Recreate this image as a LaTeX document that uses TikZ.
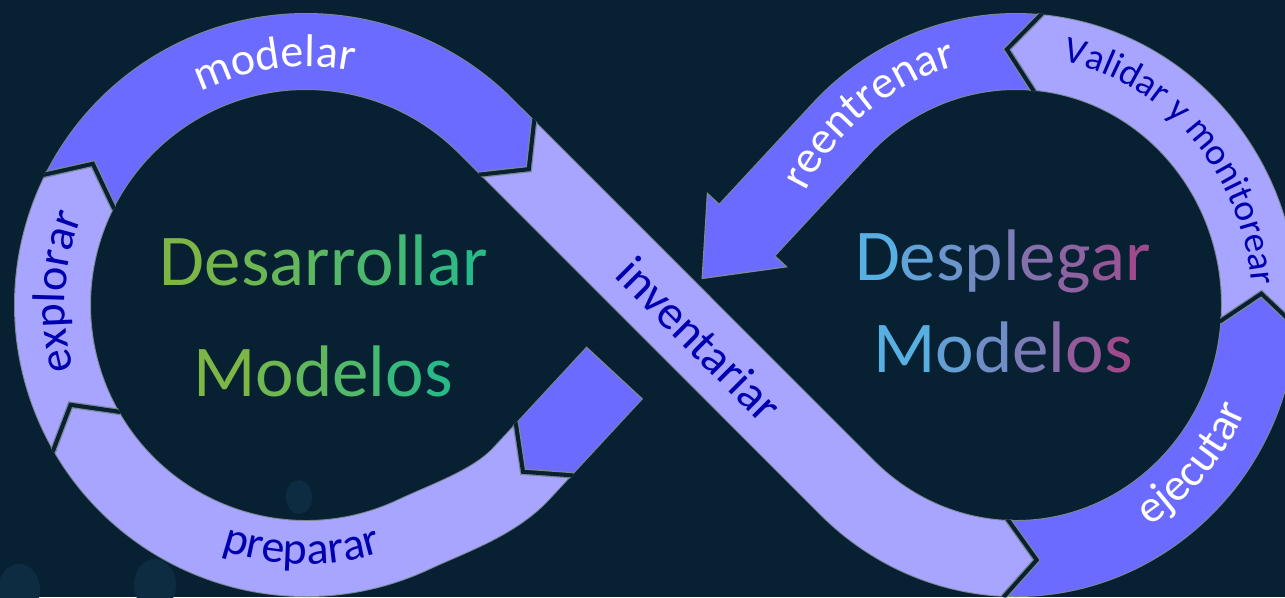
\documentclass[tikz,border=0pt]{standalone}
\usepackage{fontspec}
\setmainfont{Carlito}
\usetikzlibrary{calc,decorations.text}

\definecolor{bg}{HTML}{072133}
\definecolor{bandblue}{HTML}{6C6BFF}
\definecolor{bandlilac}{HTML}{A7A5FF}
\definecolor{edge}{HTML}{7C8894}
\definecolor{ink}{HTML}{0000B0}
\definecolor{bokeh}{HTML}{0D2C41}
\definecolor{devA}{HTML}{7EB646}
\definecolor{devB}{HTML}{27BA88}
\definecolor{depA}{HTML}{58B0E2}
\definecolor{depB}{HTML}{A04A8C}

\newcommand\lblfont{\fontsize{46pt}{50pt}\selectfont}
\newcommand\smallfont{\fontsize{37.5pt}{40pt}\selectfont}
\newcommand\bigfont{\fontsize{73pt}{80pt}\selectfont}

% one band piece: grey rim, then the fill
\newcommand\band[2]{\draw[line width=77pt,edge] #2;\draw[line width=75pt,#1] #2;}

% arrow point at a joint: junction, flow angle, colour
\newcommand\chevron[3]{%
  \begin{scope}
    \clip ($(#1)+(#2-90:39)$) -- ($(#1)+(#2+90:39)$) -- ($(#1)+(#2:60)+(#2+90:39)$) -- ($(#1)+(#2:60)+(#2-90:39)$) -- cycle;
    \draw[line width=12pt,edge] ($(#1)+(#2-90:37.5)$) -- ($(#1)+(#2:30)$) -- ($(#1)+(#2+90:37.5)$);
    \draw[line width=9.5pt,bg] ($(#1)+(#2-90:37.5)$) -- ($(#1)+(#2:30)$) -- ($(#1)+(#2+90:37.5)$);
  \end{scope}
  \fill[#3] ($(#1)+(#2-90:37.5)+(#2:-1)$) -- ($(#1)+(#2-90:37.5)$) -- ($(#1)+(#2:30)$) -- ($(#1)+(#2+90:37.5)$) -- ($(#1)+(#2+90:37.5)+(#2:-1)$) -- cycle;
  \draw[line width=1.2pt,edge] ($(#1)+(#2-90:37.5)$) -- ($(#1)+(#2:30)$) -- ($(#1)+(#2+90:37.5)$);
}

\newcommand\gradword[4]{\foreach \ch [count=\k] in {#4}{\pgfmathtruncatemacro\pc{100-100*(\k-1)/#3}\textcolor{#1!\pc!#2}{\ch}}}

\begin{document}
\begin{tikzpicture}[x=1pt,y=-1pt]
	\useasboundingbox (0,0) rectangle (1285,597);
	\fill[bg] (0,0) rectangle (1285,597);
	\fill[bokeh] (155,585) ellipse (21 and 26) (19,590) ellipse (21 and 26) (299,497) ellipse (13 and 17);

	\coordinate (lc) at (306,305);
	\coordinate (rc) at (1016,305);
	\coordinate (j1) at ($(lc)+(206:253.5)$);
	\coordinate (j2) at (505.1,145.5);
	\coordinate (j3) at ($(rc)+(93:243.5 and 253.5)$);
	\coordinate (j4) at ($(rc)+(5:243.5 and 253.5)$);
	\coordinate (j5) at ($(rc)+(-84.3:243.5 and 253.5)$);
	\coordinate (j6) at (545.8,447.2);
	\coordinate (j7) at ($(lc)+(149.5:253.5)$);
	\coordinate (head) at (747.0,230.1);
	\coordinate (cut) at (614.4,373.1);

	\band{bandblue}{(j1) arc[start angle=206, end angle=315, radius=253.5] -- (j2)}
	\band{bandlilac}{(j2) -- (847.4,487.9) arc[start angle=133.85, end angle=93, x radius=243.5, y radius=253.5]}
	\band{bandblue}{(j3) arc[start angle=93, end angle=5, x radius=243.5, y radius=253.5]}
	\band{bandlilac}{(j4) arc[start angle=5, end angle=-84.3, x radius=243.5, y radius=253.5]}
	\band{bandblue}{(j5) arc[start angle=-84.3, end angle=-136.03, x radius=243.5, y radius=253.5] -- (head)}
	\band{bandblue}{(cut) -- (j6)}
	\band{bandlilac}{(j6) -- (521.3,473.6) .. controls (494.1,502.9) and (449.4,517.8) .. ($(lc)+(65:253.5)$) arc[start angle=65, end angle=149.5, radius=253.5]}
	\band{bandlilac}{(j7) arc[start angle=149.5, end angle=206, radius=253.5]}

	\fill[bandblue] ($(head)+(222.83:37.5)+(132.83:-1)$) -- ($(head)+(222.83:37.5)$) -- ($(head)+(222.83:54)$) -- ($(head)+(132.83:66)$) -- ($(head)+(42.83:54)$) -- ($(head)+(42.83:37.5)$) -- ($(head)+(42.83:37.5)+(132.83:-1)$) -- cycle;
	\draw[edge,line width=1.2pt] ($(head)+(222.83:37.5)$) -- ($(head)+(222.83:54)$) -- ($(head)+(132.83:66)$) -- ($(head)+(42.83:54)$) -- ($(head)+(42.83:37.5)$);
	\draw[edge,line width=1.2pt] ($(cut)+(222.83:38.5)$) -- ($(cut)+(42.83:38.5)$);

	\chevron{j1}{296}{bandlilac}
	\chevron{j2}{45}{bandblue}
	\chevron{j3}{3.1}{bandlilac}
	\chevron{j4}{-85.2}{bandblue}
	\chevron{j5}{185.9}{bandlilac}
	\chevron{j6}{132.83}{bandblue}
	\chevron{j7}{239.5}{bandlilac}

	\path[decorate,decoration={text along path,text align=center,text color=white,text={|\lblfont|modelar}}]
		($(lc)+(232.5:238)$) arc[start angle=232.5, end angle=292.5, radius=238];
	\path[decorate,decoration={text along path,text align=center,text color=ink,text={|\lblfont|explorar}}]
		($(lc)+(153:241)$) arc[start angle=153, end angle=213, radius=241];
	\path[decorate,decoration={text along path,text align=center,text color=ink,text={|\lblfont|preparar}}]
		($(lc)+(121:259)$) arc[start angle=121, end angle=61, radius=259];
	\path[decorate,decoration={text along path,text align=center,text color=white,text={|\lblfont|reentrenar}}]
		($(rc)+(-160:237 and 247)$) arc[start angle=-160, end angle=-97, x radius=237, y radius=247];
	\path[decorate,decoration={text along path,text align=center,text color=ink,text={|\smallfont|Validar y monitorear}}]
		($(rc)+(-98:236 and 249)$) arc[start angle=-98, end angle=14, x radius=236, y radius=249];
	\path[decorate,decoration={text along path,text align=center,text color=white,text={|\lblfont|ejecutar}}]
		($(rc)+(75:251 and 261)$) arc[start angle=75, end angle=7, x radius=251, y radius=261];
	\node[ink,rotate=-45,anchor=base,font=\fontsize{48pt}{52pt}\selectfont] (inventariar) at (688,351) {inventariar};

	\node[anchor=base] (desarrollar) at (324,285) {\bigfont\gradword{devA}{devB}{10}{D,e,s,a,r,r,o,l,l,a,r}};
	\node[anchor=base] (modelosL) at (323,396) {\bigfont\gradword{devA}{devB}{6}{M,o,d,e,l,o,s}};
	\node[anchor=base] (desplegar) at (1003,280) {\bigfont\gradword{depA}{depB}{8}{D,e,s,p,l,e,g,a,r}};
	\node[anchor=base] (modelosR) at (1003,372) {\bigfont\gradword{depA}{depB}{6}{M,o,d,e,l,o,s}};
\end{tikzpicture}
\end{document}
